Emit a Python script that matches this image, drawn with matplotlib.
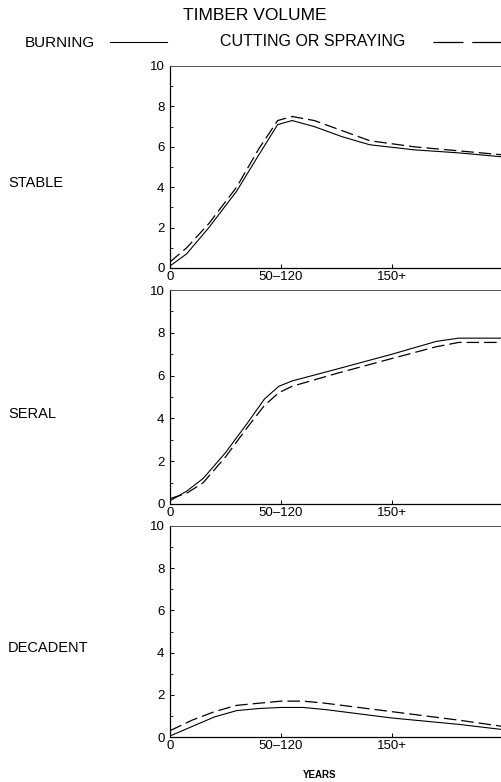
import matplotlib
matplotlib.use("Agg")
import matplotlib.pyplot as plt

# x positions in tick units: 0 -> "0", 1 -> "50-120", 2 -> "150+"
x = [0, 0.15, 0.35, 0.6, 0.8, 0.97, 1.1, 1.3, 1.55, 1.8, 2.2, 2.6, 3.0]
stable_burn = [0.1, 0.7, 2.0, 3.8, 5.6, 7.1, 7.3, 7.0, 6.5, 6.1, 5.85, 5.7, 5.5]
stable_cut = [0.3, 1.0, 2.2, 4.0, 5.9, 7.3, 7.5, 7.3, 6.8, 6.3, 6.0, 5.8, 5.6]

x_seral = [0, 0.15, 0.3, 0.5, 0.7, 0.85, 0.98, 1.1, 1.5, 2.0, 2.4, 2.6, 3.0]
seral_burn = [0.15, 0.6, 1.2, 2.4, 3.8, 4.9, 5.5, 5.75, 6.3, 7.0, 7.6, 7.75, 7.75]
seral_cut = [0.25, 0.5, 1.0, 2.2, 3.6, 4.6, 5.2, 5.5, 6.1, 6.8, 7.35, 7.55, 7.55]

x_dec = [0, 0.2, 0.4, 0.6, 0.8, 1.0, 1.2, 1.4, 1.7, 2.0, 2.3, 2.6, 3.0]
dec_burn = [0.05, 0.5, 0.95, 1.25, 1.35, 1.4, 1.4, 1.3, 1.1, 0.9, 0.75, 0.6, 0.35]
dec_cut = [0.3, 0.8, 1.2, 1.5, 1.6, 1.7, 1.7, 1.6, 1.4, 1.2, 1.0, 0.8, 0.5]

tick_pos = [0, 1, 2]
tick_labels = ["0", "50\u2013120", "150+"]
panel_names = ["STABLE", "SERAL", "DECADENT"]

W, H = 502, 782
fig = plt.figure(figsize=(W / 100, H / 100), dpi=100)
plt.rcParams['font.family'] = ['Liberation Sans', 'DejaVu Sans']

# panel boxes in pixels: (top, bottom)
boxes = [(66, 268), (290, 504), (526, 737)]
left_px, right_px = 170, 503
panels = [(x, stable_burn, stable_cut), (x_seral, seral_burn, seral_cut),
          (x_dec, dec_burn, dec_cut)]

for (top, bot), (xs, burn, cut), name in zip(boxes, panels, panel_names):
    ax = fig.add_axes([left_px / W, 1 - bot / H, (right_px - left_px) / W, (bot - top) / H])
    ax.plot(xs, burn, color='black', lw=0.8)
    ax.plot(xs, cut, color='black', lw=0.9, dashes=(10, 4))
    ax.set_xlim(0, 3)
    ax.set_ylim(0, 10)
    ax.set_xticks(tick_pos)
    ax.set_xticklabels(tick_labels)
    ax.set_yticks([0, 2, 4, 6, 8, 10])
    ax.set_yticks([1, 3, 5, 7, 9], minor=True)
    ax.tick_params(axis='both', direction='in', length=3, width=0.7, labelsize=9.5)
    ax.tick_params(axis='x', pad=2.5)
    ax.tick_params(axis='y', pad=4)
    ax.tick_params(axis='y', which='minor', direction='in', length=2, width=0.6)
    ax.spines['right'].set_visible(False)
    for s in ['left', 'bottom']:
        ax.spines[s].set_linewidth(0.9)
    ax.spines['top'].set_linewidth(0.7)
    ax.spines['top'].set_color('#555555')
    # row label sits level with the "4" tick
    y_lab = bot - 4.2 * (bot - top) / 10
    fig.text(8 / W, 1 - y_lab / H, name, fontsize=10.5, va='center', ha='left')

fig.text(255 / W, 1 - 15 / H, "TIMBER VOLUME", fontsize=12.5, ha='center', va='center')
fig.text(25 / W, 1 - 43 / H, "BURNING", fontsize=11, ha='left', va='center')
fig.text(220 / W, 1 - 42 / H, "CUTTING OR SPRAYING", fontsize=11.5, ha='left', va='center')
fig.add_artist(plt.Line2D([110 / W, 167 / W], [1 - 42 / H, 1 - 42 / H], color='black', lw=0.8))
fig.add_artist(plt.Line2D([433 / W, 502 / W], [1 - 42 / H, 1 - 42 / H], color='black', lw=0.9,
                          dashes=(24, 7)))
fig.text(320 / W, 1 - 775 / H, "YEARS", fontsize=7, ha='center', va='center', weight='bold')

fig.savefig("out.png", dpi=100)
